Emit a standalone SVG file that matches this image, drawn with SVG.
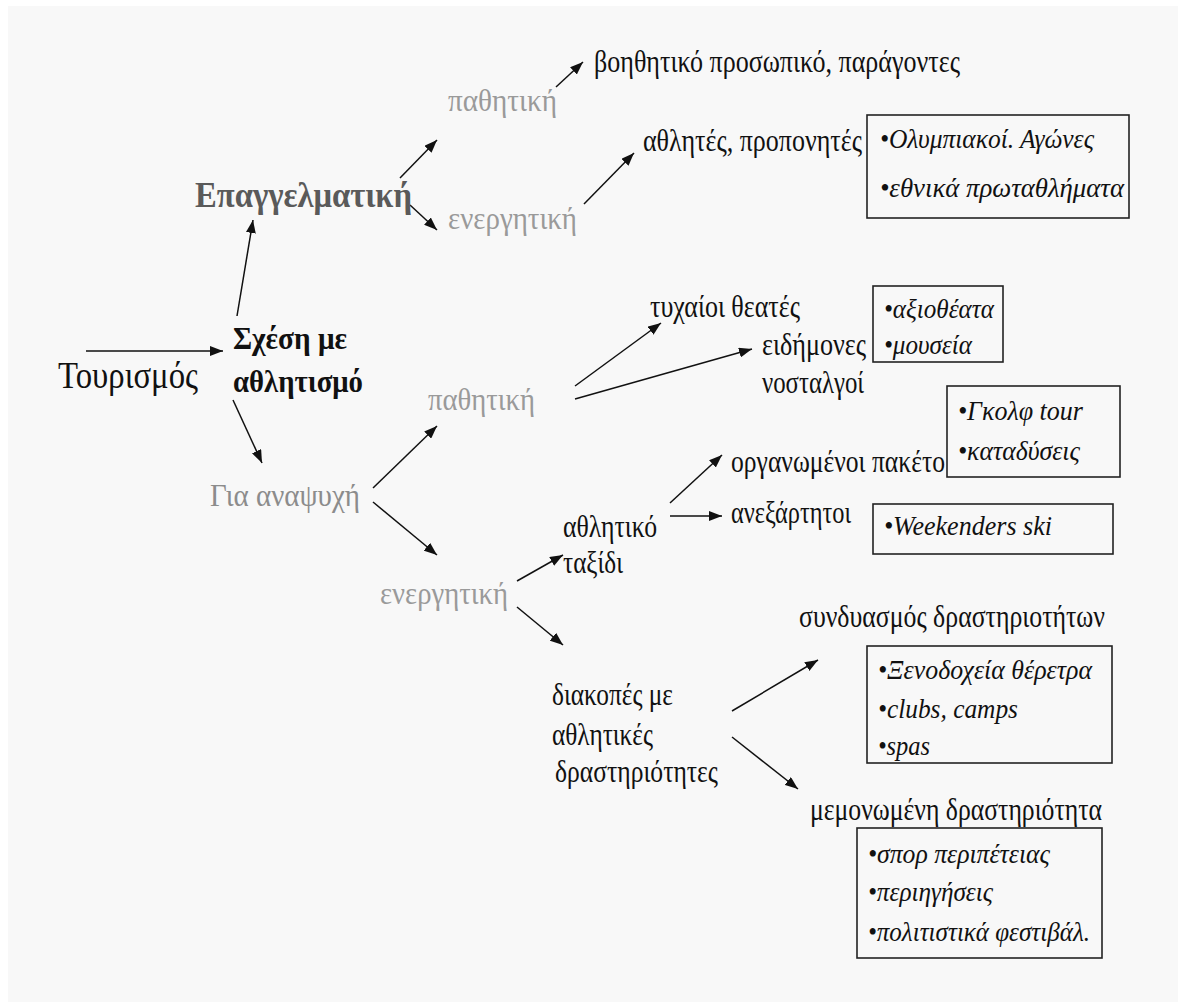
<svg xmlns="http://www.w3.org/2000/svg" width="1178" height="1002" viewBox="0 0 1178 1002">
<defs>
<marker id="ah" markerUnits="userSpaceOnUse" markerWidth="14" markerHeight="10" refX="13" refY="5" orient="auto">
<path d="M0,0 L13,5 L0,10 z" fill="#111"/>
</marker>
<style>
text{font-family:"Liberation Serif","Times New Roman",serif;}
.t{font-size:32px;fill:#111;}
.g{font-size:32px;fill:#9a9a9a;}
.bx{font-size:27px;font-style:italic;fill:#111;}
.b{font-weight:bold;}
.box{fill:none;stroke:#222;stroke-width:1.6;}
.c line{stroke:#111;stroke-width:1.5;marker-end:url(#ah);}
</style>
</defs>
<rect x="0" y="0" width="1178" height="1002" fill="#ffffff"/>
<rect x="8" y="6" width="1170" height="996" fill="#f8f8f8"/>

<g id="connectors" class="c">
<line x1="86" y1="351" x2="223" y2="351"/>
<line x1="237" y1="316" x2="253" y2="220"/>
<line x1="233" y1="400" x2="262" y2="463"/>
<line x1="400" y1="178" x2="437" y2="140"/>
<line x1="410" y1="205" x2="437" y2="230"/>
<line x1="556" y1="87" x2="583" y2="62"/>
<line x1="584" y1="204" x2="634" y2="153"/>
<line x1="373" y1="488" x2="437" y2="426"/>
<line x1="373" y1="502" x2="437" y2="555"/>
<line x1="575" y1="386" x2="661" y2="323"/>
<line x1="575" y1="399" x2="752" y2="349"/>
<line x1="517" y1="581" x2="563" y2="555"/>
<line x1="517" y1="607" x2="563" y2="645"/>
<line x1="670" y1="503" x2="722" y2="455"/>
<line x1="670" y1="516" x2="722" y2="516"/>
<line x1="732" y1="711" x2="818" y2="660"/>
<line x1="732" y1="737" x2="798" y2="789"/>
</g>

<g id="tourismos"><text class="t" x="58" y="388" style="font-size:38px" textLength="140" lengthAdjust="spacingAndGlyphs">Τουρισμός</text></g>
<g id="sxesi"><text class="t b" x="233" y="349" style="font-size:32px" textLength="114" lengthAdjust="spacingAndGlyphs">Σχέση με</text>
<text class="t b" x="233" y="392" style="font-size:32px" textLength="130" lengthAdjust="spacingAndGlyphs">αθλητισμό</text></g>
<g id="epaggelmatiki"><text class="b" x="195" y="207" style="font-size:36px;fill:#5a5a5a" textLength="217" lengthAdjust="spacingAndGlyphs">Επαγγελματική</text></g>
<g id="pathitiki1"><text class="g" x="448" y="111" textLength="109" lengthAdjust="spacingAndGlyphs">παθητική</text></g>
<g id="energitiki1"><text class="g" x="448" y="229" textLength="129" lengthAdjust="spacingAndGlyphs">ενεργητική</text></g>
<g id="voithitiko"><text class="t" x="594" y="72" textLength="366" lengthAdjust="spacingAndGlyphs">βοηθητικό προσωπικό, παράγοντες</text></g>
<g id="athlites"><text class="t" x="643" y="151" textLength="219" lengthAdjust="spacingAndGlyphs">αθλητές, προπονητές</text></g>
<g id="box1"><rect class="box" x="867" y="115" width="262" height="103"/>
<text class="bx" x="880" y="148" textLength="214" lengthAdjust="spacingAndGlyphs">•Ολυμπιακοί. Αγώνες</text>
<text class="bx" x="880" y="197" textLength="244" lengthAdjust="spacingAndGlyphs">•εθνικά πρωταθλήματα</text></g>
<g id="anapsyxi"><text class="g" x="210" y="506" style="fill:#8c8c8c" textLength="150" lengthAdjust="spacingAndGlyphs">Για αναψυχή</text></g>
<g id="pathitiki2"><text class="g" x="428" y="410" textLength="107" lengthAdjust="spacingAndGlyphs">παθητική</text></g>
<g id="energitiki2"><text class="g" x="380" y="604" textLength="128" lengthAdjust="spacingAndGlyphs">ενεργητική</text></g>
<g id="tyxaioi"><text class="t" x="650" y="317" textLength="150" lengthAdjust="spacingAndGlyphs">τυχαίοι θεατές</text></g>
<g id="eidimones"><text class="t" x="762" y="355" textLength="104" lengthAdjust="spacingAndGlyphs">ειδήμονες</text>
<text class="t" x="762" y="393" textLength="102" lengthAdjust="spacingAndGlyphs">νοσταλγοί</text></g>
<g id="box2"><rect class="box" x="873" y="286" width="130" height="76"/>
<text class="bx" x="884" y="318" textLength="110" lengthAdjust="spacingAndGlyphs">•αξιοθέατα</text>
<text class="bx" x="884" y="354" textLength="88" lengthAdjust="spacingAndGlyphs">•μουσεία</text></g>
<g id="athlitiko"><text class="t" x="563" y="537" textLength="94" lengthAdjust="spacingAndGlyphs">αθλητικό</text>
<text class="t" x="563" y="573" textLength="60" lengthAdjust="spacingAndGlyphs">ταξίδι</text></g>
<g id="organomenoi"><text class="t" x="731" y="472" textLength="214" lengthAdjust="spacingAndGlyphs">οργανωμένοι πακέτο</text></g>
<g id="box3"><rect class="box" x="947" y="386" width="173" height="91"/>
<text class="bx" x="958" y="420" textLength="125" lengthAdjust="spacingAndGlyphs">•Γκολφ tour</text>
<text class="bx" x="958" y="460" textLength="122" lengthAdjust="spacingAndGlyphs">•καταδύσεις</text></g>
<g id="anexartitoi"><text class="t" x="731" y="523" textLength="120" lengthAdjust="spacingAndGlyphs">ανεξάρτητοι</text></g>
<g id="box4"><rect class="box" x="873" y="504" width="240" height="50"/>
<text class="bx" x="884" y="535" textLength="168" lengthAdjust="spacingAndGlyphs">•Weekenders  ski</text></g>
<g id="diakopes"><text class="t" x="552" y="705" textLength="121" lengthAdjust="spacingAndGlyphs">διακοπές με</text>
<text class="t" x="552" y="745" textLength="101" lengthAdjust="spacingAndGlyphs">αθλητικές</text>
<text class="t" x="555" y="782" textLength="163" lengthAdjust="spacingAndGlyphs">δραστηριότητες</text></g>
<g id="syndyasmos"><text class="t" x="799" y="627" textLength="306" lengthAdjust="spacingAndGlyphs">συνδυασμός δραστηριοτήτων</text></g>
<g id="box5"><rect class="box" x="867" y="646" width="245" height="117"/>
<text class="bx" x="878" y="679" textLength="214" lengthAdjust="spacingAndGlyphs">•Ξενοδοχεία θέρετρα</text>
<text class="bx" x="878" y="718" textLength="140" lengthAdjust="spacingAndGlyphs">•clubs, camps</text>
<text class="bx" x="878" y="755" textLength="52" lengthAdjust="spacingAndGlyphs">•spas</text></g>
<g id="memonomeni"><text class="t" x="810" y="820" textLength="292" lengthAdjust="spacingAndGlyphs">μεμονωμένη δραστηριότητα</text></g>
<g id="box6"><rect class="box" x="857" y="828" width="245" height="130"/>
<text class="bx" x="868" y="863" textLength="182" lengthAdjust="spacingAndGlyphs">•σπορ περιπέτειας</text>
<text class="bx" x="868" y="901" textLength="125" lengthAdjust="spacingAndGlyphs">•περιηγήσεις</text>
<text class="bx" x="868" y="941" textLength="222" lengthAdjust="spacingAndGlyphs">•πολιτιστικά φεστιβάλ.</text></g>
</svg>
